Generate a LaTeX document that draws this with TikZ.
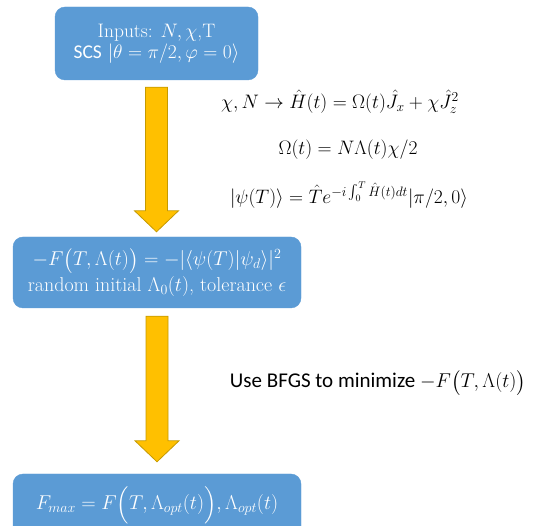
\RequirePackage{fix-cm}
\documentclass[tikz,border=0pt]{standalone}
\usepackage{amsmath}
\usepackage{fontspec}
\newfontfamily\calibri{Carlito}
\usepackage{tikz}
\usetikzlibrary{calc}
\definecolor{boxblue}{HTML}{5B9BD5}
\definecolor{arrowgold}{HTML}{FFC000}
\definecolor{arrowedge}{HTML}{C59A00}

\begin{document}
\begin{tikzpicture}[
    x=1pt, y=1pt,
    stepbox/.style={rectangle, rounded corners=10pt, fill=boxblue, draw=boxblue, text=white, align=center, font=\fontsize{20}{23}\selectfont, inner sep=0pt},
    fatarrow/.style={fill=arrowgold, draw=arrowedge, line width=0.8pt, line join=miter},
    formula/.style={font=\fontsize{19.5}{23}\selectfont, inner sep=0pt},
    note/.style={font=\calibri\fontsize{21}{24}\selectfont, inner sep=0pt},
  ]
  \clip (0,0) rectangle (537,526);
  \useasboundingbox (0,0) rectangle (537,526);

  % boxes
  \node[stepbox, font=\fontsize{19.5}{21}\selectfont, minimum width=203pt, minimum height=73pt] (inputs) at (156.5,482.5)
    {Inputs: $N,\chi$,T\\{\calibri SCS} $|\theta=\pi/2,\varphi=0\rangle$};
  \node[stepbox, font=\fontsize{20}{26}\selectfont, minimum width=288pt, minimum height=71pt] (objective) at (157,253.5)
    {$-F\bigl(T,\Lambda(t)\bigr)=-|\langle\psi(T)|\psi_d\rangle|^2$\\random initial $\Lambda_0(t)$, tolerance $\epsilon$};
  \node[stepbox, minimum width=288pt, minimum height=62pt] (result) at (157,21)
    {$F_{max}=F\Bigl(T,\Lambda_{opt}(t)\Bigr),\Lambda_{opt}(t)$};

  % arrows
  \draw[fatarrow] let \p1=(inputs.south), \p2=(objective.north) in
    (\x1-11pt,\y1-7pt) -- (\x1+11pt,\y1-7pt) -- (\x1+11pt,\y2+26pt) -- (\x1+22pt,\y2+26pt)
    -- (\x1,\y2+5pt) -- (\x1-22pt,\y2+26pt) -- (\x1-11pt,\y2+26pt) -- cycle;
  \draw[fatarrow] let \p1=(objective.south), \p2=(result.north) in
    (\x1-11pt,\y1-8pt) -- (\x1+11pt,\y1-8pt) -- (\x1+11pt,\y2+33pt) -- (\x1+22pt,\y2+33pt)
    -- (\x1,\y2+12pt) -- (\x1-22pt,\y2+33pt) -- (\x1-11pt,\y2+33pt) -- cycle;

  % equations
  \node[formula] (hamil) at (340,424) {$\chi,N\rightarrow\hat{H}(t)=\Omega(t)\hat{J}_x+\chi\hat{J}_z^2$};
  \node[formula] (omega) at (348,376) {$\Omega(t)=N\Lambda(t)\chi/2$};
  \node[formula] (evol) at (349,331) {$|\psi(T)\rangle=\hat{T}e^{-i\int_0^T\hat{H}(t)dt}|\pi/2,0\rangle$};
  \node[note] (bfgs) at (378,143) {Use BFGS to minimize {\normalfont\fontsize{20}{24}\selectfont$-F\bigl(T,\Lambda(t)\bigr)$}};

\end{tikzpicture}
\end{document}
